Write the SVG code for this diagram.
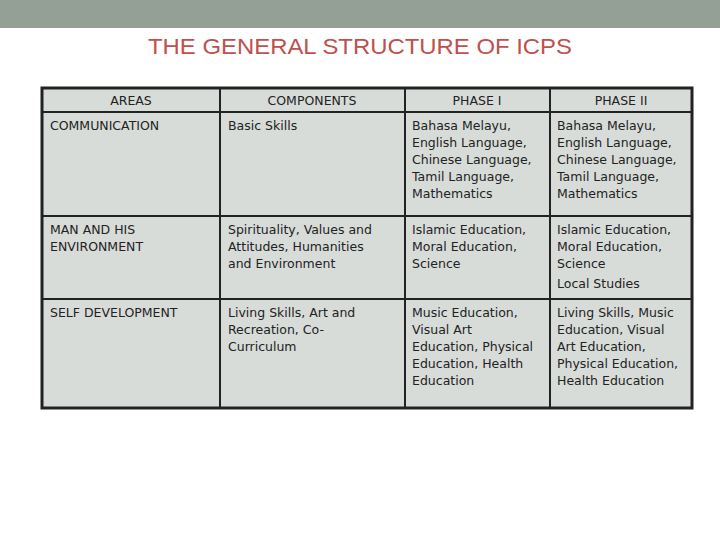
<svg xmlns="http://www.w3.org/2000/svg" width="720" height="540" viewBox="0 0 720 540">
<style>
.t{font-family:"DejaVu Sans",Verdana,sans-serif;font-size:12.5px;fill:#222}
.h{text-anchor:middle}
.c{fill:#d8dcd9;stroke:#222;stroke-width:1.5}
</style>
<rect x="0" y="0" width="720" height="540" fill="#fff"/>
<rect x="0" y="0" width="720" height="28" fill="#949f96"/>
<text x="360" y="54" text-anchor="middle" textLength="424" lengthAdjust="spacingAndGlyphs" style="font-family:'Liberation Sans',Arial,sans-serif;font-size:22px;fill:#c0504d">THE GENERAL STRUCTURE OF ICPS</text>
<g id="table">
<rect x="42" y="88" width="650" height="320" fill="#d8dcd9" stroke="#222" stroke-width="3"/>
<g stroke="#222" stroke-width="2">
<line x1="42" y1="112" x2="692" y2="112"/>
<line x1="42" y1="216" x2="692" y2="216"/>
<line x1="42" y1="299" x2="692" y2="299"/>
<line x1="220" y1="88" x2="220" y2="408"/>
<line x1="405" y1="88" x2="405" y2="408"/>
<line x1="550" y1="88" x2="550" y2="408"/>
</g>
</g>
<g id="header" class="t">
<text class="t h" x="131" y="105">AREAS</text>
<text class="t h" x="312" y="105">COMPONENTS</text>
<text class="t h" x="477" y="105">PHASE I</text>
<text class="t h" x="621" y="105">PHASE II</text>
</g>
<g id="row1">
<text class="t" x="50" y="130">COMMUNICATION</text>
<text class="t" x="228" y="130">Basic Skills</text>
<text class="t" x="412" y="130">Bahasa Melayu,<tspan x="412" dy="17">English Language,</tspan><tspan x="412" dy="17">Chinese Language,</tspan><tspan x="412" dy="17">Tamil Language,</tspan><tspan x="412" dy="17">Mathematics</tspan></text>
<text class="t" x="557" y="130">Bahasa Melayu,<tspan x="557" dy="17">English Language,</tspan><tspan x="557" dy="17">Chinese Language,</tspan><tspan x="557" dy="17">Tamil Language,</tspan><tspan x="557" dy="17">Mathematics</tspan></text>
</g>
<g id="row2">
<text class="t" x="50" y="234">MAN AND HIS<tspan x="50" dy="17">ENVIRONMENT</tspan></text>
<text class="t" x="228" y="234">Spirituality, Values and<tspan x="228" dy="17">Attitudes, Humanities</tspan><tspan x="228" dy="17">and Environment</tspan></text>
<text class="t" x="412" y="234">Islamic Education,<tspan x="412" dy="17">Moral Education,</tspan><tspan x="412" dy="17">Science</tspan></text>
<text class="t" x="557" y="234">Islamic Education,<tspan x="557" dy="17">Moral Education,</tspan><tspan x="557" dy="17">Science</tspan><tspan x="557" dy="20">Local Studies</tspan></text>
</g>
<g id="row3">
<text class="t" x="50" y="317">SELF DEVELOPMENT</text>
<text class="t" x="228" y="317">Living Skills, Art and<tspan x="228" dy="17">Recreation, Co-</tspan><tspan x="228" dy="17">Curriculum</tspan></text>
<text class="t" x="412" y="317">Music Education,<tspan x="412" dy="17">Visual Art</tspan><tspan x="412" dy="17">Education, Physical</tspan><tspan x="412" dy="17">Education, Health</tspan><tspan x="412" dy="17">Education</tspan></text>
<text class="t" x="557" y="317">Living Skills, Music<tspan x="557" dy="17">Education, Visual</tspan><tspan x="557" dy="17">Art Education,</tspan><tspan x="557" dy="17">Physical Education,</tspan><tspan x="557" dy="17">Health Education</tspan></text>
</g>
</svg>
